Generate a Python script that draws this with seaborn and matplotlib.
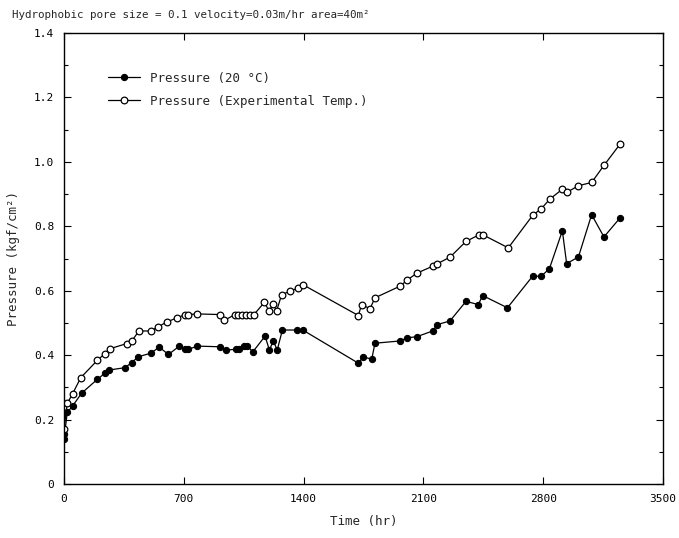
import numpy as np
import pandas as pd
import matplotlib
matplotlib.use("Agg")
import matplotlib.pyplot as plt
import seaborn as sns
from matplotlib.ticker import MultipleLocator

# ---- data ----
t_exp = [0, 19, 50, 98, 195, 239, 269, 367, 396, 438, 507, 547, 604, 663, 707,
         726, 776, 912, 937, 999, 1019, 1038, 1063, 1087, 1110, 1171, 1198, 1223,
         1242, 1272, 1320, 1370, 1395, 1720, 1739, 1788, 1817, 1963, 2006, 2060,
         2154, 2182, 2255, 2349, 2427, 2446, 2596, 2740, 2788, 2840, 2912, 2937,
         3006, 3083, 3155, 3249]
p_exp = [0.17, 0.25, 0.28, 0.33, 0.384, 0.405, 0.42, 0.436, 0.444, 0.475, 0.475,
         0.487, 0.504, 0.516, 0.526, 0.526, 0.528, 0.526, 0.508, 0.526, 0.526,
         0.526, 0.526, 0.526, 0.526, 0.564, 0.537, 0.56, 0.537, 0.588, 0.598,
         0.609, 0.619, 0.523, 0.557, 0.544, 0.578, 0.614, 0.633, 0.654, 0.676,
         0.684, 0.704, 0.753, 0.774, 0.774, 0.733, 0.835, 0.854, 0.885, 0.915,
         0.905, 0.926, 0.936, 0.989, 1.055]

t_20 = [0, 0, 19, 50, 103, 195, 239, 265, 356, 396, 434, 507, 557, 610, 674, 707,
        726, 779, 912, 946, 1005, 1024, 1051, 1072, 1103, 1175, 1200, 1223, 1246,
        1276, 1364, 1395, 1720, 1749, 1798, 1817, 1963, 2006, 2060, 2154, 2182,
        2255, 2349, 2421, 2446, 2591, 2738, 2788, 2836, 2912, 2937, 3006, 3083,
        3155, 3249]
p_20 = [0.155, 0.14, 0.222, 0.242, 0.282, 0.325, 0.344, 0.354, 0.361, 0.377,
        0.395, 0.406, 0.425, 0.402, 0.428, 0.418, 0.418, 0.428, 0.426, 0.416,
        0.418, 0.418, 0.428, 0.428, 0.41, 0.459, 0.416, 0.444, 0.416, 0.478,
        0.478, 0.478, 0.375, 0.395, 0.387, 0.437, 0.444, 0.454, 0.457, 0.475,
        0.495, 0.506, 0.567, 0.557, 0.585, 0.547, 0.645, 0.645, 0.668, 0.786,
        0.684, 0.705, 0.836, 0.767, 0.826]

x_ticks = [0, 700, 1400, 2100, 2800, 3500]
y_ticks = [0, 0.2, 0.4, 0.6, 0.8, 1.0, 1.2, 1.4]
y_tick_labels = ["0", "0.2", "0.4", "0.6", "0.8", "1.0", "1.2", "1.4"]
label_20 = "Pressure (20 °C)"
label_exp = "Pressure (Experimental Temp.)"
title = "Hydrophobic pore size = 0.1 velocity=0.03m/hr area=40m²"

df20 = pd.DataFrame({"t": t_20, "p": p_20})
dfexp = pd.DataFrame({"t": t_exp, "p": p_exp})

sns.set_style("ticks")
plt.rcParams["font.family"] = ["DejaVu Sans Mono", "DejaVu Sans"]

fig = plt.figure(figsize=(6.79, 5.38), dpi=100)
ax = fig.add_axes([64 / 679, 54 / 538, 599 / 679, 451 / 538])

sns.lineplot(data=df20, x="t", y="p", ax=ax, estimator=None, sort=False,
             color="black", linewidth=0.9, marker="o", markersize=4.5,
             markerfacecolor="black", markeredgecolor="black", label=label_20)
sns.lineplot(data=dfexp, x="t", y="p", ax=ax, estimator=None, sort=False,
             color="black", linewidth=0.9, marker="o", markersize=4.8,
             markerfacecolor="white", markeredgecolor="black",
             markeredgewidth=0.9, label=label_exp)

ax.set_xlim(0, 3500)
ax.set_ylim(0, 1.4)
ax.set_xticks(x_ticks)
ax.set_xticklabels([str(v) for v in x_ticks])
ax.set_yticks(y_ticks)
ax.set_yticklabels(y_tick_labels)
ax.yaxis.set_minor_locator(MultipleLocator(0.1))
ax.tick_params(axis="both", which="both", direction="in", top=True, right=True,
               labelsize=8, colors="black", width=0.8)
ax.tick_params(which="major", length=5, pad=7)
ax.tick_params(which="minor", length=3)
for s in ax.spines.values():
    s.set_linewidth(1.0)
    s.set_color("black")

ax.set_xlabel("Time (hr)", fontsize=9, labelpad=8)
ax.set_ylabel("Pressure (kgf/cm²)", fontsize=9, labelpad=10)

fig.text(12 / 679, 1 - 15 / 538, title, fontsize=7.8, ha="left", va="center")

leg = ax.legend(loc="upper left", bbox_to_anchor=(0.065, 0.925), frameon=False,
                fontsize=9, handlelength=2.6, borderaxespad=0, labelspacing=0.8,
                handletextpad=0.8)

fig.savefig("out.png", dpi=100)
